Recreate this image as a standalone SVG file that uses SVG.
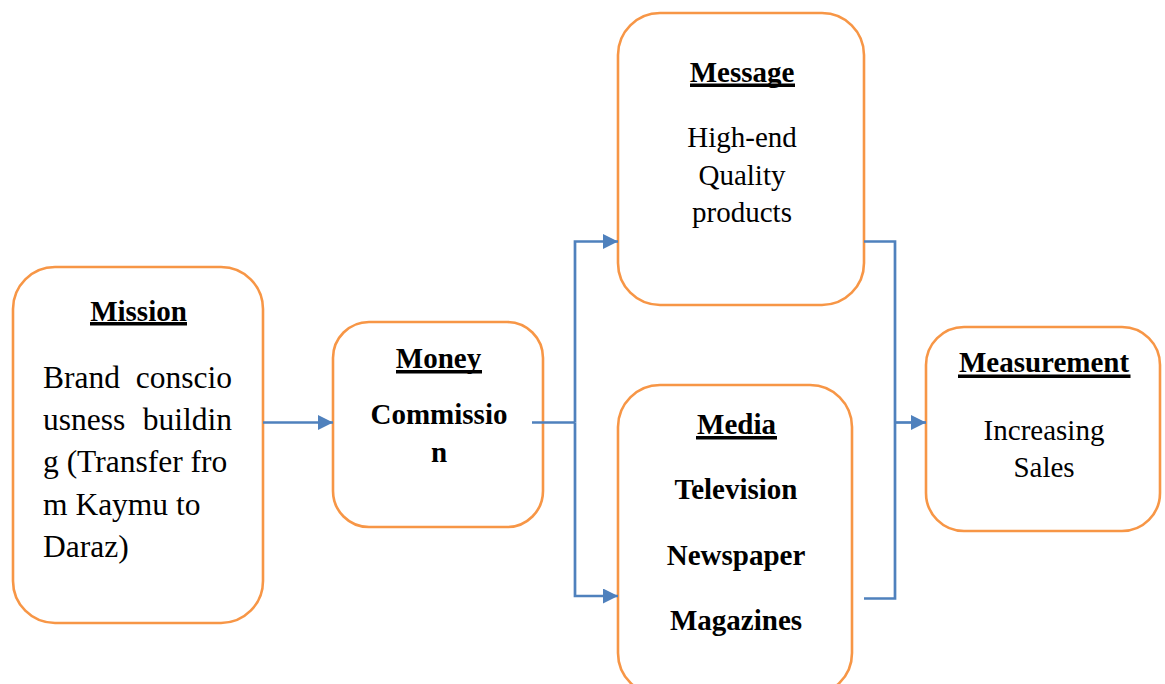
<svg xmlns="http://www.w3.org/2000/svg" width="1165" height="684" viewBox="0 0 1165 684">
<style>
.box{fill:#fff;stroke:#F79646;stroke-width:2.6}
.t{font-family:"Liberation Serif","Times New Roman",serif;font-size:29px;fill:#000}
.b{font-weight:bold}
.c{text-anchor:middle}
.mb{font-size:31.5px}
.ul{fill:#000}
.conn{fill:none;stroke:#4F81BD;stroke-width:2.7}
</style>
<defs>
<marker id="arr" markerUnits="userSpaceOnUse" markerWidth="16" markerHeight="16" refX="15" refY="7.5" orient="auto">
<path d="M0,0 L15,7.5 L0,15 z" fill="#4F81BD"/>
</marker>
</defs>
<rect width="1165" height="684" fill="#fff"/>
<g id="mission">
<rect class="box" x="13" y="267" width="250" height="356" rx="42"/>
<text class="t b c" x="138.5" y="321">Mission</text>
<rect class="ul" x="90" y="322" width="97" height="3.5"/>
<text class="t mb" x="43" y="388">Brand</text>
<text class="t mb" x="232" y="388" text-anchor="end">conscio</text>
<text class="t mb" x="43" y="430">usness</text>
<text class="t mb" x="232" y="430" text-anchor="end">buildin</text>
<text class="t mb" x="43" y="472">g (Transfer fro</text>
<text class="t mb" x="43" y="515">m Kaymu to</text>
<text class="t mb" x="43" y="557">Daraz)</text>
</g>
<g id="money">
<rect class="box" x="333" y="322" width="210" height="205" rx="36"/>
<text class="t b c" x="438.5" y="368">Money</text>
<rect class="ul" x="396" y="370" width="86" height="3.5"/>
<text class="t b c" x="439" y="424">Commissio</text>
<text class="t b c" x="439" y="462">n</text>
</g>
<g id="message">
<rect class="box" x="618" y="13" width="246" height="292" rx="42"/>
<text class="t b c" x="742" y="82">Message</text>
<rect class="ul" x="690" y="83.5" width="105" height="3.5"/>
<text class="t c" x="742" y="146.5">High-end</text>
<text class="t c" x="742" y="184.5">Quality</text>
<text class="t c" x="742" y="222">products</text>
</g>
<g id="media">
<rect class="box" x="618" y="385" width="234" height="310" rx="42"/>
<text class="t b c" x="736.5" y="434">Media</text>
<rect class="ul" x="696" y="436" width="81" height="3.5"/>
<text class="t b c" x="736" y="498.5">Television</text>
<text class="t b c" x="736" y="564.5">Newspaper</text>
<text class="t b c" x="736" y="629.5">Magazines</text>
</g>
<g id="measurement">
<rect class="box" x="926" y="327" width="234" height="204" rx="38"/>
<text class="t b c" x="1044" y="372">Measurement</text>
<rect class="ul" x="958" y="374.5" width="172.5" height="3.5"/>
<text class="t c" x="1044" y="440">Increasing</text>
<text class="t c" x="1044" y="476.5">Sales</text>
</g>
<g id="connectors">
<path class="conn" d="M263 422.5 H333" marker-end="url(#arr)"/>
<path class="conn" d="M532 422.5 H575"/>
<path class="conn" d="M575 422.5 V241.5 H618" marker-end="url(#arr)"/>
<path class="conn" d="M575 422.5 V596 H618" marker-end="url(#arr)"/>
<path class="conn" d="M864 241.5 H895 V598.5 H864"/>
<path class="conn" d="M895 422.5 H926" marker-end="url(#arr)"/>
</g>
</svg>
